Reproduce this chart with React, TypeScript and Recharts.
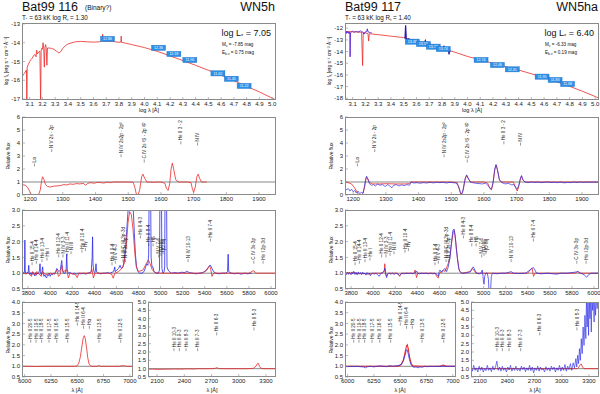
import React from "react";
import { ComposedChart, Line, Scatter, XAxis, YAxis, ReferenceLine } from "recharts";

const FONT = "'Liberation Sans', Arial, Helvetica, sans-serif";
const RED = "#ea2a2a";
const BLUE = "#2a2ae8";
const PURPLE = "#5a22d0";
const FRAME = "#8a8a8a";
const COL2 = 323;

// ---- tick values ----
const sedXTicks = [3.1, 3.2, 3.3, 3.4, 3.5, 3.6, 3.7, 3.8, 3.9, 4.0, 4.1, 4.2, 4.3, 4.4, 4.5, 4.6, 4.7, 4.8, 4.9, 5.0];
const sedYTicks116 = [-17, -16, -15, -14, -13];
const sedYTicks117 = [-18, -17, -16, -15, -14, -13, -12];
const uvXTicks = [1200, 1300, 1400, 1500, 1600, 1700, 1800, 1900];
const uvYTicks = [0, 1, 2, 3, 4, 5, 6];
const optXTicks = [3800, 4000, 4200, 4400, 4600, 4800, 5000, 5200, 5400, 5600, 5800, 6000];
const optYTicks = [0.5, 1.0, 1.5, 2.0, 2.5, 3.0];
const haXTicks = [6000, 6250, 6500, 6750, 7000];
const haYTicks = [0.5, 1.0, 1.5, 2.0, 2.5, 3.0, 3.5, 4.0];
const nuvXTicks = [2100, 2400, 2700, 3000, 3300];
const nuvYTicks = [0.5, 1.0, 1.5, 2.0, 2.5, 3.0, 3.5, 4.0, 4.5, 5.0];

// ---- SED, Bat99 116 (log lambda, log f) ----
const sed116 = [
  [3.04, -15.85], [3.05, -15.7], [3.06, -15.62], [3.07, -15.5], [3.075, -15.45], [3.078, -17.3], [3.081, -15.3],
  [3.09, -15.15], [3.1, -15.0], [3.11, -14.9], [3.12, -14.82], [3.13, -14.7], [3.14, -14.62], [3.15, -14.75],
  [3.155, -14.4], [3.16, -14.6], [3.17, -14.5], [3.18, -14.45], [3.186, -17.3], [3.19, -14.4], [3.195, -14.3],
  [3.2, -14.35], [3.205, -14.0], [3.21, -14.3], [3.215, -15.3], [3.22, -14.25], [3.225, -14.1], [3.23, -14.3],
  [3.235, -15.2], [3.24, -14.28], [3.25, -14.28], [3.27, -14.3], [3.29, -14.35], [3.31, -14.45], [3.33, -14.55],
  [3.34, -14.5], [3.36, -14.3], [3.38, -14.15], [3.4, -14.07], [3.43, -14.0], [3.46, -13.95], [3.5, -13.93],
  [3.55, -13.95], [3.6, -13.97], [3.65, -13.95], [3.67, -13.9], [3.672, -13.55], [3.675, -13.92], [3.7, -13.92],
  [3.75, -13.93], [3.8, -13.98], [3.815, -13.96], [3.817, -13.65], [3.82, -13.98], [3.85, -14.02], [3.9, -14.1],
  [3.95, -14.18], [4.0, -14.26], [4.05, -14.36], [4.1, -14.46], [4.2, -14.7], [4.3, -14.95], [4.4, -15.2],
  [4.5, -15.47], [4.6, -15.73], [4.7, -16.02], [4.8, -16.32], [4.9, -16.62], [5.0, -16.95], [5.03, -17.05],
];

// ---- SED, Bat99 117 ----
const sed117Model = [
  [3.04, -12.28], [3.1, -12.3], [3.17, -12.35], [3.178, -15.2], [3.183, -12.38], [3.2, -12.4], [3.22, -12.45],
  [3.225, -13.1], [3.23, -12.47], [3.3, -12.55], [3.4, -12.68], [3.5, -12.8], [3.6, -13.12], [3.7, -13.42],
  [3.8, -13.72], [3.9, -14.05], [4.0, -14.42], [4.1, -14.7], [4.2, -15.0], [4.3, -15.3], [4.4, -15.58],
  [4.5, -15.9], [4.6, -16.22], [4.7, -16.6], [4.8, -16.98], [4.9, -17.4], [5.0, -17.85], [5.03, -18.0],
];
const sed117UV = [
  [3.04, -12.5], [3.045, -12.3], [3.05, -12.45], [3.055, -12.25], [3.06, -12.4], [3.065, -12.3], [3.07, -12.45],
  [3.075, -12.35], [3.078, -12.5], [3.08, -14.45], [3.083, -12.4], [3.09, -12.3], [3.1, -12.25], [3.11, -12.35],
  [3.12, -12.3], [3.13, -12.28], [3.14, -12.32], [3.15, -12.3], [3.16, -12.22], [3.17, -12.3], [3.18, -12.32],
  [3.19, -12.5], [3.2, -12.3], [3.21, -12.28], [3.215, -12.05], [3.22, -12.3], [3.23, -12.35], [3.24, -12.38],
  [3.25, -12.4],
];
const sed117Opt = [
  [3.51, -12.9], [3.515, -11.75], [3.52, -12.85], [3.53, -12.98], [3.54, -12.9], [3.55, -13.05], [3.56, -12.97],
  [3.57, -13.1], [3.58, -13.02], [3.59, -13.15], [3.6, -13.08], [3.61, -13.2], [3.62, -13.12], [3.63, -13.27],
  [3.64, -13.18], [3.65, -13.32], [3.66, -13.25], [3.67, -13.05], [3.675, -13.35], [3.69, -13.3], [3.7, -13.45],
  [3.71, -13.38], [3.72, -13.52], [3.73, -13.45], [3.74, -13.58], [3.75, -13.5], [3.76, -13.65], [3.77, -13.58],
  [3.78, -13.72], [3.79, -13.64], [3.8, -13.78], [3.81, -13.7], [3.817, -13.5], [3.82, -13.82], [3.83, -13.78],
  [3.84, -13.92], [3.85, -13.85], [3.855, -14.25], [3.86, -13.9], [3.863, -14.05],
];

// photometry boxes: log lambda, log f, magnitude
const phot116: [number, number, string][] = [
  [3.71, -13.8, "12.86"], [4.11, -14.27, "12.36"], [4.23, -14.6, "12.18"], [4.355, -14.92, "11.96"],
  [4.575, -15.63, "11.62"], [4.68, -15.92, "11.45"], [4.78, -16.3, "11.22"],
];
const phot117: [number, number, string][] = [
  [3.567, -13.15, "13.38"], [3.654, -13.35, "13.55"], [3.732, -13.58, "13.72"], [3.81, -13.78, "13.74"],
  [4.106, -14.72, "12.74"], [4.234, -15.15, "12.46"], [4.351, -15.52, "12.31"], [4.584, -16.15, "11.95"],
  [4.686, -16.43, "11.83"], [4.784, -16.78, "11.68"],
];

// ---- UV, relative flux ----
const uvRed116 = [
  [1175, 0.8], [1185, 0.75], [1192, 0.6], [1198, 0.3], [1203, 0.05], [1210, 0], [1220, 0], [1226, 0.05],
  [1231, 0.4], [1235, 1.1], [1238, 1.4], [1242, 1.2], [1247, 0.8], [1253, 0.65], [1262, 0.62], [1272, 0.68],
  [1282, 0.7], [1292, 0.72], [1302, 0.8], [1312, 0.78], [1322, 0.85], [1332, 0.82], [1342, 0.88], [1352, 0.85],
  [1362, 0.9], [1370, 0.75], [1376, 0.9], [1386, 0.95], [1396, 0.9], [1406, 0.98], [1416, 0.95], [1426, 0.92],
  [1436, 1.0], [1446, 0.95], [1456, 1.0], [1480, 1.0], [1500, 1.0], [1515, 0.98], [1520, 0.6], [1525, 0.05],
  [1530, 0.0], [1535, 0.4], [1541, 1.4], [1545, 1.6], [1550, 1.3], [1557, 1.0], [1575, 0.98], [1600, 1.0],
  [1612, 0.9], [1617, 0.5], [1622, 0.35], [1627, 0.9], [1631, 2.0], [1635, 2.45], [1639, 2.0], [1645, 1.2],
  [1652, 1.0], [1680, 1.0], [1692, 0.95], [1696, 0.5], [1700, 0.2], [1705, 0.6], [1710, 1.4], [1714, 1.6],
  [1718, 1.3], [1724, 1.0], [1740, 1.0],
];
const uvRed117 = [
  [1175, 1.0], [1185, 0.95], [1195, 0.85], [1203, 0.6], [1210, 0.3], [1216, 0.05], [1224, 0.0], [1230, 0.1],
  [1235, 0.6], [1240, 1.35], [1244, 1.3], [1250, 0.95], [1260, 0.85], [1280, 0.85], [1300, 0.87], [1330, 0.85],
  [1360, 0.85], [1372, 0.88], [1376, 1.0], [1400, 1.0], [1450, 1.0], [1500, 1.0], [1518, 0.95], [1524, 0.5],
  [1530, 0.0], [1536, 0.3], [1542, 1.2], [1547, 1.5], [1552, 1.25], [1560, 1.0], [1600, 1.0], [1612, 0.9],
  [1618, 0.5], [1623, 0.4], [1628, 0.9], [1633, 1.9], [1637, 2.3], [1641, 1.95], [1648, 1.1], [1655, 1.0],
  [1690, 1.0], [1697, 0.55], [1702, 0.3], [1707, 0.7], [1712, 1.3], [1715, 1.45], [1719, 1.15], [1726, 1.0],
  [1952, 1.0],
];
const uvBlue117 = [
  [1175, 0.55], [1180, 0.4], [1185, 0.5], [1190, 0.3], [1195, 0.45], [1200, 0.25], [1205, 0.35], [1210, 0.15],
  [1215, 0.3], [1220, 0.1], [1225, 0.2], [1230, 0.15], [1234, 0.6], [1238, 1.2], [1241, 1.45], [1245, 1.2],
  [1250, 0.85], [1256, 0.75], [1262, 0.8], [1268, 0.7], [1275, 0.85], [1282, 0.75], [1290, 0.8], [1298, 0.65],
  [1305, 0.8], [1312, 0.7], [1318, 0.55], [1324, 0.75], [1332, 0.8], [1340, 0.7], [1348, 0.78], [1356, 0.72],
  [1364, 0.8], [1372, 0.75], [1378, 1.0], [1385, 0.92], [1395, 0.95], [1405, 0.9], [1415, 0.95], [1425, 0.92],
  [1435, 0.98], [1445, 0.93], [1455, 0.97], [1465, 0.95], [1475, 0.98], [1485, 0.92], [1495, 0.97], [1505, 0.95],
  [1515, 0.92], [1522, 0.7], [1528, 0.2], [1532, 0.02], [1537, 0.5], [1543, 1.3], [1547, 1.55], [1552, 1.3],
  [1558, 1.0], [1565, 0.95], [1575, 0.9], [1585, 0.88], [1595, 0.85], [1605, 0.9], [1612, 0.75], [1618, 0.55],
  [1623, 0.45], [1628, 1.0], [1633, 2.0], [1637, 2.35], [1641, 2.0], [1647, 1.2], [1655, 0.95], [1665, 0.85],
  [1675, 0.9], [1685, 0.78], [1692, 0.8], [1697, 0.6], [1702, 0.45], [1707, 0.8], [1712, 1.3], [1715, 1.5],
  [1719, 1.2], [1725, 1.0], [1735, 0.95], [1745, 1.0], [1755, 0.97], [1765, 1.0], [1775, 0.95], [1785, 0.98],
  [1795, 1.0], [1805, 0.96], [1815, 0.98], [1825, 0.95], [1835, 1.0], [1845, 0.93], [1855, 0.97], [1865, 0.95],
  [1875, 1.0], [1885, 0.96], [1895, 1.0], [1905, 0.97], [1915, 1.0], [1925, 0.98], [1935, 1.0], [1945, 0.98],
  [1952, 1.0],
];

// ---- optical, relative flux ----
const optBlue116 = [
  [3745, 1.0], [3752, 0.97], [3758, 1.02], [3764, 0.98], [3768, 1.1], [3771, 2.05], [3774, 1.1], [3778, 1.0],
  [3785, 0.97], [3792, 1.03], [3800, 1.0], [3806, 1.25], [3810, 1.02], [3818, 0.96], [3826, 1.02], [3834, 0.95],
  [3842, 1.03], [3850, 0.98], [3858, 0.92], [3866, 1.02], [3874, 0.95], [3882, 1.0], [3890, 0.97], [3898, 1.03],
  [3904, 1.1], [3908, 1.3], [3912, 1.05], [3920, 0.95], [3926, 1.05], [3932, 1.2], [3936, 1.0], [3944, 0.9],
  [3952, 0.95], [3960, 0.88], [3968, 0.85], [3975, 0.95], [3984, 0.92], [3992, 1.0], [4000, 0.9], [4010, 0.97],
  [4020, 0.95], [4030, 1.0], [4040, 0.98], [4050, 1.05], [4060, 1.15], [4070, 1.1], [4080, 1.05], [4092, 1.1],
  [4100, 1.3], [4105, 1.4], [4110, 1.15], [4120, 1.0], [4135, 1.0], [4144, 1.1], [4150, 1.6], [4155, 1.1],
  [4165, 1.0], [4180, 1.02], [4200, 0.98], [4220, 1.0], [4240, 0.97], [4260, 1.0], [4280, 0.98], [4300, 1.0],
  [4320, 0.97], [4340, 1.0], [4360, 1.02], [4372, 1.05], [4380, 1.5], [4384, 2.15], [4388, 1.3], [4395, 1.05],
  [4405, 1.02], [4410, 1.1], [4415, 1.3], [4420, 1.05], [4440, 1.0], [4460, 0.98], [4480, 1.0], [4500, 1.0],
  [4520, 1.02], [4540, 1.0], [4560, 1.03], [4575, 1.05], [4585, 1.2], [4590, 1.05], [4605, 1.1], [4620, 1.15],
  [4633, 1.25], [4645, 1.15], [4660, 1.2], [4672, 1.45], [4685, 1.9], [4698, 2.6], [4708, 3.1], [4720, 3.3],
  [4740, 3.2], [4752, 3.05], [4762, 2.3], [4772, 1.6], [4782, 1.2], [4795, 1.05], [4810, 1.0], [4830, 1.0],
  [4850, 1.05], [4865, 1.2], [4874, 1.3], [4885, 1.25], [4892, 1.6], [4896, 3.5], [4910, 3.5], [4914, 1.5],
  [4922, 1.2], [4930, 1.2], [4940, 1.05], [4960, 1.0], [4980, 1.0], [4990, 1.1], [4994, 3.5], [5008, 3.5],
  [5012, 1.15], [5022, 1.0], [5032, 1.05], [5037, 1.2], [5040, 3.5], [5054, 3.5], [5058, 1.2], [5068, 1.1],
  [5080, 1.05], [5100, 1.0], [5130, 1.02], [5160, 1.0], [5190, 1.03], [5220, 1.02], [5237, 1.06], [5260, 1.02],
  [5290, 1.0], [5320, 0.98], [5350, 1.0], [5380, 1.02], [5410, 1.08], [5430, 1.18], [5448, 1.26], [5465, 1.15],
  [5480, 1.05], [5500, 1.0], [5530, 0.98], [5560, 1.0], [5590, 1.0], [5606, 1.05], [5612, 1.6], [5617, 1.05],
  [5640, 1.0], [5670, 0.98], [5700, 1.0], [5730, 0.97], [5760, 1.0], [5790, 0.98], [5810, 1.0], [5825, 0.99],
];
const optRed116 = [
  [3745, 1.0], [3780, 0.98], [3800, 1.02], [3830, 0.9], [3840, 1.05], [3870, 0.92], [3880, 1.05], [3920, 0.9],
  [3930, 1.05], [3960, 0.95], [4000, 1.0], [4040, 0.97], [4060, 1.1], [4075, 0.9], [4090, 0.95], [4105, 1.25],
  [4115, 1.05], [4150, 1.1], [4165, 0.85], [4180, 1.0], [4230, 0.95], [4245, 0.86], [4260, 1.0], [4365, 1.0],
  [4378, 1.12], [4392, 0.85], [4405, 1.0], [4520, 1.0], [4555, 0.98], [4572, 0.84], [4585, 1.0], [4620, 1.05],
  [4648, 1.15], [4670, 1.3], [4690, 1.9], [4705, 2.6], [4720, 2.95], [4735, 2.85], [4750, 2.4], [4765, 1.7],
  [4780, 1.2], [4800, 1.05], [4840, 1.1], [4870, 1.3], [4889, 1.42], [4905, 1.3], [4925, 1.1], [4950, 1.02],
  [5000, 1.0], [5380, 1.0], [5420, 1.1], [5440, 1.22], [5452, 1.18], [5465, 0.9], [5480, 1.0], [5800, 1.0],
  [5830, 1.06], [5845, 1.08], [5860, 1.0], [6045, 1.0],
];
const optBlue117 = [
  [3745, 1.0], [3755, 0.95], [3765, 1.03], [3775, 0.96], [3785, 1.02], [3795, 0.97], [3805, 1.04], [3815, 0.98],
  [3825, 1.05], [3835, 0.96], [3845, 1.03], [3855, 0.95], [3865, 1.04], [3875, 0.97], [3885, 1.02], [3895, 0.95],
  [3905, 1.03], [3915, 0.97], [3925, 1.0], [3935, 0.94], [3945, 1.02], [3955, 0.97], [3965, 1.01], [3975, 0.92],
  [3985, 0.98], [3995, 1.0], [4010, 0.97], [4025, 1.0], [4040, 0.95], [4055, 0.9], [4070, 1.0], [4085, 1.02],
  [4100, 1.08], [4107, 1.16], [4114, 0.98], [4122, 0.86], [4130, 0.97], [4145, 1.0], [4160, 0.97], [4175, 1.0],
  [4190, 0.96], [4205, 1.0], [4220, 0.98], [4240, 0.93], [4260, 1.0], [4280, 0.98], [4300, 1.0], [4320, 0.99],
  [4340, 1.0], [4360, 0.98], [4385, 1.03], [4394, 1.07], [4402, 1.0], [4420, 0.98], [4440, 1.0], [4460, 0.99],
  [4480, 1.0], [4500, 0.98], [4520, 1.0], [4540, 0.98], [4560, 1.0], [4580, 0.95], [4590, 0.9], [4598, 1.05],
  [4605, 1.1], [4620, 1.02], [4635, 1.1], [4651, 1.15], [4665, 1.05], [4680, 1.2], [4696, 1.5], [4710, 2.0],
  [4722, 2.35], [4732, 2.4], [4742, 2.2], [4752, 1.8], [4762, 1.5], [4775, 1.15], [4787, 1.05], [4800, 1.0],
  [4830, 1.0], [4860, 1.02], [4880, 1.05], [4895, 1.15], [4907, 1.2], [4920, 1.1], [4938, 1.0], [4960, 0.98],
  [4975, 1.0], [4988, 1.1], [4995, 0.9], [5000, 0.7], [5004, 0.65], [5010, 0.9], [5020, 1.0], [5034, 1.0],
  [5044, 0.8], [5050, 0.3], [5058, 0.3], [5064, 0.5], [5070, 0.9], [5080, 1.0], [5120, 0.98], [5160, 1.0],
  [5200, 1.0], [5230, 1.03], [5249, 1.05], [5270, 1.0], [5320, 0.99], [5380, 1.0], [5420, 1.1], [5440, 1.16],
  [5451, 1.18], [5465, 1.1], [5480, 1.0], [5520, 0.98], [5580, 1.0], [5630, 0.98], [5663, 0.97], [5700, 1.0],
  [5760, 1.0], [5800, 1.02], [5840, 1.04], [5858, 1.05], [5880, 1.0], [5910, 0.95], [5934, 0.87], [5950, 0.95],
  [5975, 1.0], [6000, 1.0], [6045, 1.0],
];
const optRed117 = [
  [3745, 1.0], [3790, 1.02], [3800, 0.95], [3820, 1.05], [3850, 0.98], [3900, 1.0], [3960, 0.97], [4000, 1.0],
  [4080, 1.0], [4100, 1.05], [4105, 1.3], [4110, 1.0], [4120, 0.9], [4135, 1.0], [4220, 1.0], [4240, 0.9],
  [4255, 1.0], [4370, 1.0], [4380, 1.1], [4393, 0.86], [4405, 1.0], [4560, 1.0], [4578, 0.88], [4590, 0.85],
  [4600, 1.0], [4635, 1.1], [4650, 1.05], [4690, 1.4], [4710, 1.95], [4725, 2.3], [4735, 2.35], [4748, 2.0],
  [4762, 1.5], [4778, 1.1], [4800, 1.0], [4880, 1.05], [4900, 1.15], [4912, 1.1], [4930, 1.0], [5400, 1.0],
  [5425, 1.12], [5440, 1.15], [5452, 0.9], [5465, 1.0], [5830, 1.0], [5850, 1.05], [5870, 1.0], [6045, 1.0],
];

// ---- H-alpha region ----
const haRed116 = [
  [5975, 1.0], [6050, 1.0], [6100, 0.99], [6200, 1.0], [6300, 1.0], [6400, 1.0], [6480, 1.0], [6500, 1.03],
  [6515, 1.15], [6530, 1.45], [6545, 1.95], [6558, 2.35], [6567, 2.43], [6576, 2.3], [6588, 1.9], [6600, 1.4],
  [6612, 1.12], [6625, 1.03], [6640, 1.0], [6690, 1.0], [6705, 1.04], [6720, 1.0], [6900, 1.0], [6930, 1.03],
  [6950, 1.02], [6970, 1.0], [7030, 1.0],
];
const haRed117 = [
  [5975, 1.0], [6100, 1.0], [6300, 1.0], [6480, 1.0], [6510, 1.08], [6530, 1.3], [6548, 1.7], [6560, 1.95],
  [6567, 2.0], [6575, 1.85], [6590, 1.4], [6605, 1.12], [6620, 1.02], [6700, 1.0], [6880, 1.0], [6895, 1.04],
  [6910, 1.06], [6925, 1.03], [6940, 1.0], [7030, 1.0],
];
const haBlue117 = [
  [5975, 1.0], [6000, 0.98], [6030, 1.0], [6060, 0.99], [6090, 1.0], [6120, 0.98], [6150, 0.97], [6170, 0.93],
  [6190, 0.98], [6220, 1.0], [6250, 0.97], [6280, 1.0], [6310, 1.02], [6340, 1.0], [6370, 0.98], [6400, 1.03],
  [6430, 1.0], [6460, 1.02], [6490, 1.04], [6510, 1.1], [6530, 1.25], [6545, 1.5], [6557, 1.72], [6565, 1.78],
  [6575, 1.6], [6588, 1.3], [6600, 1.1], [6615, 1.0], [6630, 0.95], [6650, 0.97], [6670, 0.93], [6690, 0.97],
  [6710, 0.95], [6730, 1.0], [6760, 0.98], [6790, 1.0], [6820, 0.99], [6850, 1.0], [6880, 1.0], [6910, 1.0],
  [6950, 1.0], [7030, 1.0],
];

// ---- 2000-3400 A region ----
const nuvRed116 = [
  [2000, 0.98], [2050, 0.97], [2100, 0.96], [2150, 0.96], [2200, 0.97], [2250, 0.97], [2300, 0.98], [2350, 0.97],
  [2400, 0.98], [2450, 0.99], [2500, 0.98], [2550, 1.0], [2600, 1.0], [2700, 1.0], [2740, 1.02], [2757, 1.06],
  [2775, 1.02], [2800, 1.0], [2900, 1.0], [3000, 1.0], [3100, 1.0], [3160, 1.02], [3190, 1.15], [3205, 1.3],
  [3215, 1.32], [3228, 1.15], [3245, 1.02], [3270, 1.0], [3410, 1.0],
];
const nuvRed117 = [
  [2000, 1.0], [2500, 1.0], [3000, 1.0], [3170, 1.0], [3190, 1.1], [3205, 1.25], [3215, 1.28], [3228, 1.1],
  [3245, 1.0], [3410, 1.0],
];
const nuvBlue117 = [
  [2000, 1.1], [2015, 0.85], [2030, 1.2], [2045, 0.9], [2060, 1.05], [2075, 0.8], [2090, 1.15], [2105, 0.9],
  [2120, 1.1], [2135, 0.8], [2150, 1.0], [2165, 0.88], [2180, 1.2], [2195, 0.9], [2210, 1.05], [2225, 0.82],
  [2240, 1.15], [2255, 0.92], [2270, 1.1], [2285, 1.45], [2300, 0.9], [2315, 1.1], [2330, 0.85], [2345, 1.15],
  [2360, 0.9], [2375, 1.05], [2390, 0.8], [2405, 1.1], [2420, 0.92], [2435, 1.2], [2450, 0.85], [2465, 1.05],
  [2480, 0.9], [2495, 1.15], [2510, 0.88], [2525, 1.0], [2540, 0.85], [2555, 1.15], [2570, 0.95], [2585, 1.1],
  [2600, 0.82], [2615, 1.05], [2630, 0.9], [2645, 1.2], [2660, 0.88], [2675, 1.1], [2690, 0.75], [2705, 1.05],
  [2720, 0.9], [2735, 1.15], [2750, 0.85], [2765, 1.1], [2780, 0.92], [2795, 1.0], [2810, 0.8], [2825, 1.12],
  [2840, 0.9], [2855, 1.05], [2870, 0.85], [2885, 1.15], [2900, 0.95], [2915, 1.1], [2930, 0.8], [2945, 1.05],
  [2960, 0.9], [2975, 1.2], [2990, 0.85], [3005, 1.1], [3020, 0.9], [3035, 1.25], [3050, 0.85], [3065, 1.15],
  [3080, 0.95], [3095, 1.3], [3110, 0.9], [3125, 1.35], [3140, 1.05], [3155, 1.6], [3165, 1.1], [3175, 1.8],
  [3185, 1.3], [3195, 2.2], [3205, 1.5], [3215, 2.8], [3225, 1.9], [3235, 3.5], [3245, 2.4], [3255, 4.2],
  [3265, 2.8], [3272, 5.3], [3280, 3.5], [3288, 5.3], [3295, 3.0], [3302, 5.3], [3310, 4.0], [3318, 5.3],
  [3325, 3.2], [3332, 5.3], [3340, 4.5], [3348, 5.3], [3356, 3.8], [3364, 5.3], [3372, 4.2], [3380, 5.3],
  [3390, 4.6], [3400, 5.3], [3410, 5.0],
];

// ---- line identifications: wavelength, foot height, label ----
const uvLines: [number, number, string][] = [
  [1213, 2.2, "Lα"], [1266, 3.3, "N V 2s - 2p"], [1478, 2.9, "N IV 2s2p - 2p²"],
  [1549, 2.5, "C IV 2s ²S - 2p ²P"], [1661, 3.9, "He II 3 - 2"], [1712, 3.8, "N IV"],
];
const optLines: [number, number, string][] = [
  [3836, 1.25, "He II 15-4"], [3875, 1.3, "He II 14-4"], [3926, 1.35, "He II 13-4"], [3971, 1.4, "He I"],
  [4077, 1.5, "He II 12-4"], [4116, 1.5, "N IV 3-3"], [4153, 1.55, "He II 11-4"], [4189, 1.6, "N III"],
  [4288, 1.65, "He II 10-4"], [4319, 1.7, "Hγ"], [4560, 1.25, "He II 9-4"], [4590, 1.3, "N V 4-3"],
  [4660, 1.35, "N III/C III 3p-3d"], [4681, 1.35, "N V 3s-3p"], [4817, 2.1, "He II 4-3"], [4893, 1.85, "He II 8-4"],
  [4932, 1.85, "Hβ"], [4983, 1.5, "N V 7-6"], [5004, 1.55, "[O III]"], [5022, 1.6, "[O III]"],
  [5249, 1.35, "N IV 10-13"], [5451, 2.0, "He II 7-4"], [5844, 1.3, "C IV 3s-3p"], [5928, 1.3, "He I 2p-3d"],
];
const haLines: [number, number, string][] = [
  [6058, 2.1, "He II 20-5"], [6108, 2.1, "He II 19-5"], [6162, 2.1, "He II 18-5"], [6232, 2.1, "He II 17-5"],
  [6305, 2.1, "He II 16-5"], [6409, 2.1, "He II 15-5"], [6501, 2.9, "He II 14-5"], [6560, 2.75, "He II 6-4"],
  [6615, 2.75, "Hα"], [6707, 2.1, "He II 13-5"], [6913, 2.1, "He II 12-5"],
];
const nuvLines: [number, number, string][] = [
  [2286, 2.05, "He II 10-3"], [2345, 2.05, "He II 9-3"], [2419, 2.05, "He II 8-3"], [2547, 2.05, "He II 7-3"],
  [2757, 3.0, "He II 6-3"], [3167, 3.3, "He II 5-3"],
];

type Pt = { x: number; y: number };
type Tag = { x: number; y: number; label: string };
type SeriesDef = { data: Pt[]; color: string; width?: number; opacity?: number };

const pts = (a: number[][]): Pt[] => a.map(([x, y]) => ({ x, y }));
const tags = (a: [number, number, string][]): Tag[] => a.map(([x, y, label]) => ({ x, y, label }));

const tickStyle = { fontSize: 6, fill: "#222", fontFamily: FONT };
const tickLineStyle = { stroke: FRAME, strokeWidth: 0.6 };

function LineTag(props: any) {
  const { cx, cy, payload } = props;
  if (cx == null || cy == null) return null;
  return (
    <g>
      <line x1={cx} x2={cx} y1={cy} y2={cy - 3} stroke="#333" strokeWidth={0.5} />
      <text transform={`translate(${cx + 1.6},${cy - 4}) rotate(-90)`} fontSize={4.6} fill="#222" fontFamily={FONT}>
        {payload.label}
      </text>
    </g>
  );
}

function PhotBox(props: any) {
  const { cx, cy, payload } = props;
  if (cx == null || cy == null) return null;
  return (
    <g>
      <rect x={cx - 7} y={cy - 2.6} width={14} height={5.2} fill="#2d8fe6" stroke="#1c6fc4" strokeWidth={0.4} />
      <text x={cx} y={cy + 1.3} textAnchor="middle" fontSize={3.6} fill="#fff" fontFamily={FONT}>
        {payload.label}
      </text>
    </g>
  );
}

type PanelProps = {
  x: number; y: number; w: number; h: number;
  xDomain: [number, number]; yDomain: [number, number];
  xTicks: number[]; yTicks: number[];
  xFmt?: (v: number) => string; yFmt?: (v: number) => string;
  series: SeriesDef[];
  unity?: boolean;
  lineTags?: Tag[];
  boxes?: Tag[];
  yw?: number;
};

function Panel(p: PanelProps) {
  const yw = p.yw ?? 20;
  const mt = 4, mr = 4, xh = 14;
  return (
    <div style={{ position: "absolute", left: p.x - yw, top: p.y - mt }}>
      <ComposedChart width={yw + p.w + mr} height={mt + p.h + xh} margin={{ top: mt, right: mr, bottom: 0, left: 0 }}>
        <XAxis type="number" dataKey="x" domain={p.xDomain} allowDataOverflow ticks={p.xTicks} interval={0}
          tickFormatter={p.xFmt} height={xh} axisLine={false} tickSize={-3} tickMargin={5} tick={tickStyle}
          tickLine={tickLineStyle} />
        <XAxis xAxisId="top" orientation="top" type="number" dataKey="x" domain={p.xDomain} allowDataOverflow
          ticks={p.xTicks} interval={0} height={0} axisLine={false} tickSize={-3} tick={false} tickLine={tickLineStyle} />
        <YAxis type="number" dataKey="y" domain={p.yDomain} allowDataOverflow ticks={p.yTicks} interval={0}
          tickFormatter={p.yFmt} width={yw} axisLine={false} tickSize={-3} tickMargin={5} tick={tickStyle}
          tickLine={tickLineStyle} />
        <YAxis yAxisId="right" orientation="right" type="number" dataKey="y" domain={p.yDomain} allowDataOverflow
          ticks={p.yTicks} interval={0} width={0} axisLine={false} tickSize={-3} tick={false} tickLine={tickLineStyle} />
        {p.unity && <ReferenceLine y={1} stroke="#555" strokeWidth={0.7} />}
        {p.series.map((s, i) => (
          <Line key={i} data={s.data} dataKey="y" type="linear" stroke={s.color} strokeWidth={s.width ?? 0.8}
            strokeOpacity={s.opacity ?? 1} dot={false} activeDot={false} isAnimationActive={false} />
        ))}
        {p.lineTags && <Scatter data={p.lineTags} dataKey="y" shape={LineTag} isAnimationActive={false} />}
        {p.boxes && <Scatter data={p.boxes} dataKey="y" shape={PhotBox} isAnimationActive={false} />}
      </ComposedChart>
      <div style={{ position: "absolute", left: yw, top: mt, width: p.w, height: p.h, border: `1px solid ${FRAME}`,
        boxSizing: "border-box", pointerEvents: "none" }} />
    </div>
  );
}

const f1 = (v: number) => v.toFixed(1);
const f0 = (v: number) => String(v);

type Star = {
  off: number; name: string; note: string; cls: string; rt: string; logL: string; mv: string; ebv: string;
  sed: SeriesDef[]; sedY: [number, number]; sedTicks: number[]; phot: Tag[];
  uv: SeriesDef[]; opt: SeriesDef[]; ha: SeriesDef[]; nuv: SeriesDef[];
};

const stars: Star[] = [
  {
    off: 0, name: "Bat99 116", note: "(Binary?)", cls: "WN5h", rt: "1.30", logL: "7.05", mv: "-7.85", ebv: "0.75",
    sed: [{ data: pts(sed116), color: RED, width: 0.8 }], sedY: [-17.05, -12.95], sedTicks: sedYTicks116,
    phot: tags(phot116),
    uv: [{ data: pts(uvRed116), color: RED }],
    opt: [{ data: pts(optBlue116), color: BLUE, width: 0.8 }, { data: pts(optRed116), color: RED, width: 0.8 }],
    ha: [{ data: pts(haRed116), color: RED }],
    nuv: [{ data: pts(nuvRed116), color: RED }],
  },
  {
    off: COL2, name: "Bat99 117", note: "", cls: "WN5ha", rt: "1.40", logL: "6.40", mv: "-6.33", ebv: "0.19",
    sed: [
      { data: pts(sed117Model), color: RED, width: 0.8 },
      { data: pts(sed117UV), color: PURPLE, width: 0.9 },
      { data: pts(sed117Opt), color: "#2a1aa8", width: 1.2 },
    ],
    sedY: [-18.15, -11.55], sedTicks: sedYTicks117, phot: tags(phot117),
    uv: [{ data: pts(uvRed117), color: RED }, { data: pts(uvBlue117), color: BLUE, opacity: 0.85 }],
    opt: [{ data: pts(optRed117), color: RED }, { data: pts(optBlue117), color: BLUE, opacity: 0.9 }],
    ha: [{ data: pts(haRed117), color: RED, width: 1.1 }, { data: pts(haBlue117), color: BLUE, opacity: 0.9 }],
    nuv: [{ data: pts(nuvRed117), color: RED }, { data: pts(nuvBlue117), color: BLUE, width: 0.7, opacity: 0.9 }],
  },
];

function Column({ s }: { s: Star }) {
  const o = s.off;
  return (
    <>
      <Panel x={22 + o} y={23} w={254} h={77} xDomain={[3.04, 5.03]} yDomain={s.sedY} xTicks={sedXTicks}
        yTicks={s.sedTicks} xFmt={f1} yFmt={f0} series={s.sed} boxes={s.phot} />
      <Panel x={22 + o} y={117} w={254} h={78} xDomain={[1175, 1952]} yDomain={[0, 6]} xTicks={uvXTicks}
        yTicks={uvYTicks} xFmt={f0} yFmt={f0} series={s.uv} unity lineTags={tags(uvLines)} />
      <Panel x={22 + o} y={210} w={254} h={79} xDomain={[3745, 6045]} yDomain={[0.5, 3.0]} xTicks={optXTicks}
        yTicks={optYTicks} xFmt={f0} yFmt={f1} series={s.opt} unity lineTags={tags(optLines)} />
      <Panel x={22 + o} y={302} w={111} h={75} xDomain={[5975, 7030]} yDomain={[0.5, 4.0]} xTicks={haXTicks}
        yTicks={haYTicks} xFmt={f0} yFmt={f1} series={s.ha} unity lineTags={tags(haLines)} />
      <Panel x={148 + o} y={302} w={128} h={75} xDomain={[2000, 3410]} yDomain={[0.5, 5.0]} xTicks={nuvXTicks}
        yTicks={nuvYTicks} xFmt={f0} yFmt={f1} series={s.nuv} unity lineTags={tags(nuvLines)} yw={15} />
      <svg width={600} height={394} style={{ position: "absolute", left: 0, top: 0, pointerEvents: "none" }}
        fontFamily={FONT} fill="#111">
        <text x={22 + o} y={11} fontSize={12.5}>{s.name}</text>
        {s.note && <text x={85 + o} y={9.5} fontSize={6.5}>{s.note}</text>}
        <text x={275 + o} y={11} fontSize={12.5} textAnchor="end">{s.cls}</text>
        <text x={22 + o} y={19.5} fontSize={6.3}>
          T<tspan fontSize={4} dy={1.5}>*</tspan><tspan dy={-1.5}> =  63 kK   log R</tspan>
          <tspan fontSize={4} dy={1.5}>t</tspan><tspan dy={-1.5}> = {s.rt}</tspan>
        </text>
        <text x={271 + o} y={36} fontSize={9} textAnchor="end">
          log L<tspan fontSize={5.5} dy={1.5}>*</tspan><tspan dy={-1.5}> = {s.logL}</tspan>
        </text>
        <text x={222 + o} y={46} fontSize={4.6}>
          M<tspan fontSize={3.2} dy={1}>v</tspan><tspan dy={-1}> = {s.mv} mag</tspan>
        </text>
        <text x={222 + o} y={53.5} fontSize={4.6}>
          E<tspan fontSize={3.2} dy={1}>b-v</tspan><tspan dy={-1}> = {s.ebv} mag</tspan>
        </text>
        <text transform={`translate(${7.5 + o},61) rotate(-90)`} fontSize={4.8} textAnchor="middle">
          log f<tspan fontSize={3.4} dy={1}>λ</tspan><tspan dy={-1}> [erg s⁻¹ cm⁻² Å⁻¹]</tspan>
        </text>
        <text x={149 + o} y={111.5} fontSize={5.5} textAnchor="middle">log λ [Å]</text>
        <text transform={`translate(${9.5 + o},156) rotate(-90)`} fontSize={5} textAnchor="middle">Relative flux</text>
        <text transform={`translate(${9.5 + o},250) rotate(-90)`} fontSize={5} textAnchor="middle">Relative flux</text>
        <text transform={`translate(${9.5 + o},340) rotate(-90)`} fontSize={5} textAnchor="middle">Relative flux</text>
        <text x={77 + o} y={391.5} fontSize={5.5} textAnchor="middle">λ [Å]</text>
        <text x={212 + o} y={391.5} fontSize={5.5} textAnchor="middle">λ [Å]</text>
      </svg>
    </>
  );
}

export default function App() {
  return (
    <div style={{ position: "absolute", left: 0, top: 0, width: 600, height: 394, background: "#fff", overflow: "hidden",
      fontFamily: FONT }}>
      {stars.map((s) => <Column key={s.name} s={s} />)}
    </div>
  );
}
